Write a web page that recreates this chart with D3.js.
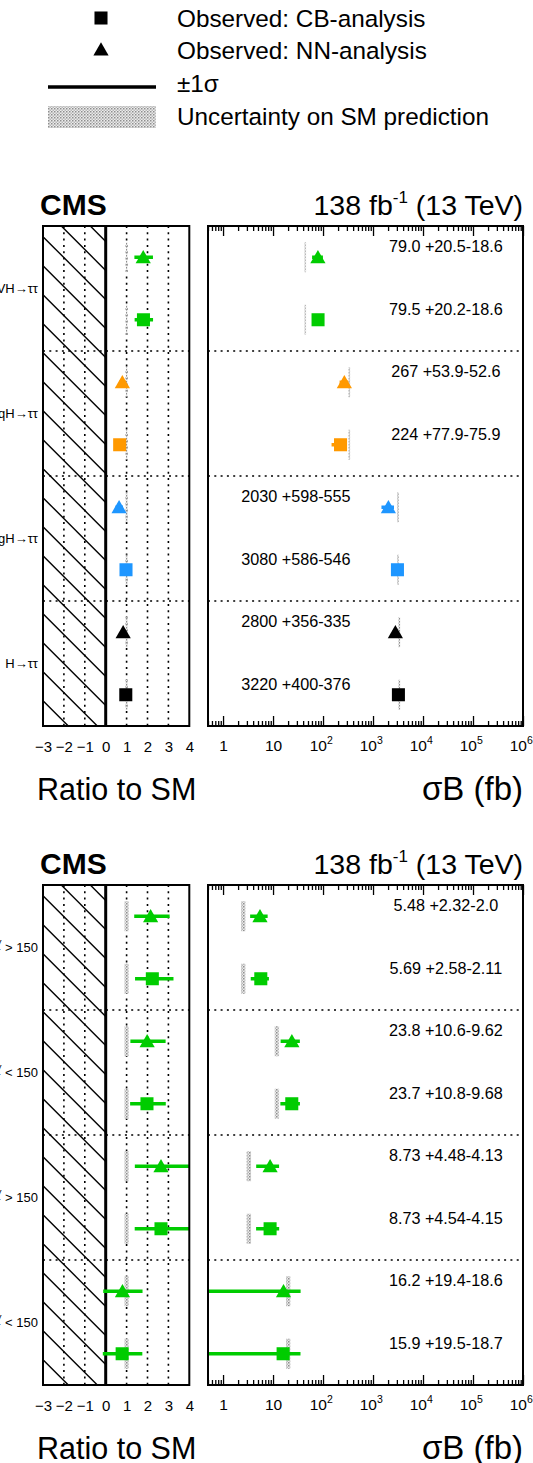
<!DOCTYPE html>
<html>
<head>
<meta charset="utf-8">
<script src="https://cdn.jsdelivr.net/npm/d3@7"></script>
<style>
  body { margin: 0; background: #fff; }
  text { font-family: "Liberation Sans", Arial, Helvetica, sans-serif; }
</style>
</head>
<body>
<script>
// ---- data ----
// rows go top to bottom, two per group: NN-analysis (triangle), then CB-analysis (square)
var topGroups = ["VH→ττ", "qqH→ττ", "ggH→ττ", "H→ττ"];
var topValues = ["79.0", "79.5", "267", "224", "2030", "3080", "2800", "3220"];
var topErrUp = ["20.5", "20.2", "53.9", "77.9", "598", "586", "356", "400"];
var topErrDown = ["18.6", "18.6", "52.6", "75.9", "555", "546", "335", "376"];
var topSM = [44, 335, 3170, 3350];          // SM prediction per group (fb)
var topSMUnc = [0.03, 0.03, 0.04, 0.04];    // relative SM uncertainty
var topColors = ["#00cc00", "#ff9900", "#1e96ff", "#000000"];
var topLabelSide = ["right", "right", "right", "right", "left", "left", "left", "left"];

var bottomGroups = [["WH", ">"], ["WH", "<"], ["ZH", ">"], ["ZH", "<"]];
var bottomValues = ["5.48", "5.69", "23.8", "23.7", "8.73", "8.73", "16.2", "15.9"];
var bottomErrUp = ["2.32", "2.58", "10.6", "10.8", "4.48", "4.54", "19.4", "19.5"];
var bottomErrDown = ["2.0", "2.11", "9.62", "9.68", "4.13", "4.15", "18.6", "18.7"];
var bottomSM = [2.55, 12.0, 3.3, 20.2];
var bottomSMUnc = [0.1, 0.1, 0.1, 0.1];
var bottomColors = ["#00cc00", "#00cc00", "#00cc00", "#00cc00"];
var bottomLabelSide = ["right", "right", "right", "right", "right", "right", "right", "right"];

var ratioTicks = [-3, -2, -1, 0, 1, 2, 3, 4];
var ratioGrid = [-2, -1, 1, 2, 3];
var xsecMajor = [1, 10, 100, 1e3, 1e4, 1e5, 1e6];

var legendItems = ["Observed: CB-analysis", "Observed: NN-analysis", "±1σ", "Uncertainty on SM prediction"];

// ---- layout ----
var W = 533, H = 1463;
var leftRange = [43, 189.3], rightRange = [208, 523];
var panelH = 500;
var panelTops = [226, 885];

var svg = d3.select("body").append("svg")
    .attr("width", W)
    .attr("height", H);

var defs = svg.append("defs");
var pat = defs.append("pattern")
    .attr("id", "smfill")
    .attr("patternUnits", "userSpaceOnUse")
    .attr("width", 3).attr("height", 3);
pat.append("rect").attr("width", 3).attr("height", 3).attr("fill", "#ececec");
pat.append("rect").attr("width", 1.5).attr("height", 1.5).attr("fill", "#8e8e8e");
pat.append("rect").attr("x", 1.5).attr("y", 1.5).attr("width", 1.5).attr("height", 1.5).attr("fill", "#b8b8b8");

var tri = d3.symbol().type(d3.symbolTriangle).size(100);
var sq = d3.symbol().type(d3.symbolSquare).size(170);

// ---- legend ----
var legend = svg.append("g");
legend.append("path").attr("d", sq()).attr("transform", "translate(101,18)");
legend.append("path").attr("d", tri()).attr("transform", "translate(101,51)");
legend.append("line")
    .attr("x1", 48).attr("x2", 156).attr("y1", 87).attr("y2", 87)
    .attr("stroke", "#000").attr("stroke-width", 3.5);
legend.append("rect")
    .attr("x", 48).attr("y", 106).attr("width", 108).attr("height", 22)
    .attr("fill", "url(#smfill)");
legend.selectAll("text.leg")
    .data(legendItems)
  .enter().append("text")
    .attr("class", "leg")
    .attr("x", 177)
    .attr("y", function(d, i) { return 26.5 + i * 32.7; })
    .style("font-size", "24.3px")
    .text(function(d) { return d; });

// ---- panels ----
var panels = [
  { groups: topGroups, values: topValues, up: topErrUp, down: topErrDown, sm: topSM, smUnc: topSMUnc,
    colors: topColors, side: topLabelSide, top: panelTops[0] },
  { groups: bottomGroups, values: bottomValues, up: bottomErrUp, down: bottomErrDown, sm: bottomSM, smUnc: bottomSMUnc,
    colors: bottomColors, side: bottomLabelSide, top: panelTops[1] }
];

panels.forEach(function(p, pi) {
  var top = p.top, bottom = top + panelH;
  var g = svg.append("g");

  var xL = d3.scaleLinear().domain([-3, 4]).range(leftRange);
  var xR = d3.scaleLog().domain([0.5, 1e6]).range(rightRange);
  var y = d3.scaleBand().domain(d3.range(8)).range([top, bottom]);
  var yc = function(i) { return y(i) + y.bandwidth() / 2; };

  var rows = p.values.map(function(v, i) {
    var gi = Math.floor(i / 2);
    var val = +v, up = +p.up[i], dn = +p.down[i];
    return {
      i: i, group: gi, val: val, up: up, dn: dn,
      sm: p.sm[gi], unc: p.smUnc[gi],
      color: p.colors[gi], marker: i % 2 === 0 ? "tri" : "sq",
      label: v + " +" + p.up[i] + "-" + p.down[i], side: p.side[i]
    };
  });

  // clip paths
  defs.append("clipPath").attr("id", "clipL" + pi)
    .append("rect").attr("x", leftRange[0]).attr("y", top)
      .attr("width", leftRange[1] - leftRange[0]).attr("height", panelH);
  defs.append("clipPath").attr("id", "clipR" + pi)
    .append("rect").attr("x", rightRange[0]).attr("y", top)
      .attr("width", rightRange[1] - rightRange[0]).attr("height", panelH);
  defs.append("clipPath").attr("id", "clipH" + pi)
    .append("rect").attr("x", leftRange[0]).attr("y", top)
      .attr("width", xL(0) - leftRange[0]).attr("height", panelH);

  // ---------- left: ratio to SM ----------
  var gl = g.append("g");
  // hatched unphysical region
  var hatch = gl.append("g").attr("clip-path", "url(#clipH" + pi + ")");
  var x0 = leftRange[0];
  var start = top + 10.7 - 29 * 6;
  d3.range(0, 26).forEach(function(k) {
    var yy = start + k * 29;
    hatch.append("line")
      .attr("x1", x0).attr("y1", yy).attr("x2", x0 + 200).attr("y2", yy + 200)
      .attr("stroke", "#000").attr("stroke-width", 1.4);
  });

  gl.selectAll(".vgrid")
      .data(ratioGrid)
    .enter().append("line")
      .attr("x1", function(d) { return xL(d); }).attr("x2", function(d) { return xL(d); })
      .attr("y1", top).attr("y2", bottom)
      .attr("stroke", "#000").attr("stroke-width", 1.6).attr("stroke-dasharray", "2,4.3");

  gl.selectAll(".hsep")
      .data([2, 4, 6])
    .enter().append("line")
      .attr("x1", leftRange[0]).attr("x2", leftRange[1])
      .attr("y1", function(d) { return y(d); }).attr("y2", function(d) { return y(d); })
      .attr("stroke", "#000").attr("stroke-width", 1.6).attr("stroke-dasharray", "2,4.3");

  gl.selectAll(".smband")
      .data(rows)
    .enter().append("rect")
      .attr("x", function(d) { return xL(1 - d.unc); })
      .attr("width", function(d) { return xL(1 + d.unc) - xL(1 - d.unc); })
      .attr("y", function(d) { return yc(d.i) - 15; })
      .attr("height", 30)
      .attr("fill", "url(#smfill)");

  gl.append("line")
      .attr("x1", xL(0)).attr("x2", xL(0)).attr("y1", top).attr("y2", bottom)
      .attr("stroke", "#000").attr("stroke-width", 3);

  var lm = gl.append("g").attr("clip-path", "url(#clipL" + pi + ")");
  lm.selectAll(".err")
      .data(rows)
    .enter().append("line")
      .attr("x1", function(d) { return xL((d.val - d.dn) / d.sm); })
      .attr("x2", function(d) { return xL((d.val + d.up) / d.sm); })
      .attr("y1", function(d) { return yc(d.i); }).attr("y2", function(d) { return yc(d.i); })
      .attr("stroke", function(d) { return d.color; }).attr("stroke-width", 3.5);
  lm.selectAll(".mk")
      .data(rows)
    .enter().append("path")
      .attr("d", function(d) { return d.marker === "tri" ? tri() : sq(); })
      .attr("transform", function(d) {
        return "translate(" + xL(d.val / d.sm) + "," + (yc(d.i) + (d.marker === "tri" ? 1.5 : 0)) + ")";
      })
      .attr("fill", function(d) { return d.color; });

  gl.append("rect")
      .attr("x", leftRange[0]).attr("y", top)
      .attr("width", leftRange[1] - leftRange[0]).attr("height", panelH)
      .attr("fill", "none").attr("stroke", "#000").attr("stroke-width", 2);

  var axL = gl.append("g")
      .attr("transform", "translate(0," + bottom + ")")
      .call(d3.axisBottom(xL).tickValues(ratioTicks).tickSize(0).tickPadding(15)
        .tickFormat(function(d) { return d < 0 ? "−" + (-d) : String(d); }));
  axL.select(".domain").remove();
  axL.selectAll("text").style("font-size", "15px").attr("fill", "#000")
      .style("font-family", "'Liberation Sans', Arial, sans-serif");

  // group labels (partly outside the page on the left, as in the original)
  var labels = g.selectAll(".glab")
      .data(p.groups)
    .enter().append("text")
      .attr("x", 38)
      .attr("y", function(d, i) { return y(i * 2 + 1) + 4.5; })
      .attr("text-anchor", "end")
      .style("font-size", "13px");
  labels.each(function(d) {
    var t = d3.select(this);
    if (typeof d === "string") { t.text(d); return; }
    t.append("tspan").text(d[0] + ", p");
    t.append("tspan").attr("dy", 3).style("font-size", "9px").text("T");
    t.append("tspan").attr("dx", -5).attr("dy", -9).style("font-size", "9px").text("V");
    t.append("tspan").attr("dy", 6).text(" " + d[1] + " 150");
  });

  g.append("text")
      .attr("x", 37).attr("y", bottom + 74)
      .style("font-size", "30.5px")
      .text("Ratio to SM");

  // ---------- right: sigma x B ----------
  var gr = g.append("g");

  gr.selectAll(".hsep")
      .data([2, 4, 6])
    .enter().append("line")
      .attr("x1", rightRange[0]).attr("x2", rightRange[1])
      .attr("y1", function(d) { return y(d); }).attr("y2", function(d) { return y(d); })
      .attr("stroke", "#000").attr("stroke-width", 1.6).attr("stroke-dasharray", "2,4.3");

  gr.selectAll(".smband")
      .data(rows)
    .enter().append("rect")
      .attr("x", function(d) { return xR(d.sm * (1 - d.unc)); })
      .attr("width", function(d) { return Math.max(1.5, xR(d.sm * (1 + d.unc)) - xR(d.sm * (1 - d.unc))); })
      .attr("y", function(d) { return yc(d.i) - 15; })
      .attr("height", 30)
      .attr("fill", "url(#smfill)");

  var rm = gr.append("g").attr("clip-path", "url(#clipR" + pi + ")");
  rm.selectAll(".err")
      .data(rows)
    .enter().append("line")
      .attr("x1", function(d) { return xR(Math.max(d.val - d.dn, 0.5)); })
      .attr("x2", function(d) { return xR(d.val + d.up); })
      .attr("y1", function(d) { return yc(d.i); }).attr("y2", function(d) { return yc(d.i); })
      .attr("stroke", function(d) { return d.color; }).attr("stroke-width", 3.5);
  rm.selectAll(".mk")
      .data(rows)
    .enter().append("path")
      .attr("d", function(d) { return d.marker === "tri" ? tri() : sq(); })
      .attr("transform", function(d) {
        return "translate(" + xR(d.val) + "," + (yc(d.i) + (d.marker === "tri" ? 1.5 : 0)) + ")";
      })
      .attr("fill", function(d) { return d.color; });

  var pw = rightRange[1] - rightRange[0];
  gr.selectAll(".vlab")
      .data(rows)
    .enter().append("text")
      .attr("x", function(d) { return rightRange[0] + (d.side === "right" ? 0.755 : 0.279) * pw; })
      .attr("y", function(d) { return yc(d.i) - 5; })
      .attr("text-anchor", "middle")
      .style("font-size", "16.2px")
      .text(function(d) { return d.label; });

  // log ticks
  var minor = [];
  d3.range(-1, 6).forEach(function(e) {
    d3.range(2, 10).forEach(function(m) {
      var v = m * Math.pow(10, e);
      if (v >= 0.5 && v <= 1e6) minor.push(v);
    });
  });
  [["axisBottom", bottom], ["axisTop", top]].forEach(function(a) {
    var ax = gr.append("g").attr("transform", "translate(0," + a[1] + ")");
    ax.call(d3[a[0]](xR).tickValues(minor).tickSize(-5).tickFormat(""));
    ax.select(".domain").remove();
    var axM = gr.append("g").attr("transform", "translate(0," + a[1] + ")");
    axM.call(d3[a[0]](xR).tickValues(xsecMajor).tickSize(-10).tickPadding(14)
      .tickFormat(a[0] === "axisBottom" ? function(d) { return d; } : ""));
    axM.select(".domain").remove();
    gr.selectAll(".tick line").attr("stroke-width", 1.3);
    if (a[0] === "axisBottom") {
      axM.selectAll("text").each(function(d) {
        var t = d3.select(this).text("").attr("fill", "#000")
          .style("font-size", "15.5px")
          .style("font-family", "'Liberation Sans', Arial, sans-serif");
        var e = Math.round(Math.log10(d));
        if (e < 2) { t.text(d); return; }
        t.attr("dx", "-0.15em");
        t.append("tspan").text("10");
        t.append("tspan").attr("dy", -7).style("font-size", "10.5px").text(e);
      });
    }
  });

  gr.append("rect")
      .attr("x", rightRange[0]).attr("y", top)
      .attr("width", pw).attr("height", panelH)
      .attr("fill", "none").attr("stroke", "#000").attr("stroke-width", 2);

  g.append("text")
      .attr("x", 523).attr("y", bottom + 74)
      .attr("text-anchor", "end")
      .style("font-size", "33px")
      .text("σB (fb)");

  // headers
  g.append("text")
      .attr("x", 40).attr("y", top - 11)
      .style("font-size", "30px").style("font-weight", "bold")
      .text("CMS");
  var lumi = g.append("text")
      .attr("x", 523).attr("y", top - 11)
      .attr("text-anchor", "end")
      .style("font-size", "28.5px");
  lumi.append("tspan").text("138 fb");
  lumi.append("tspan").attr("dy", -12).style("font-size", "17px").text("-1");
  lumi.append("tspan").attr("dy", 12).text(" (13 TeV)");
});
</script>
</body>
</html>
